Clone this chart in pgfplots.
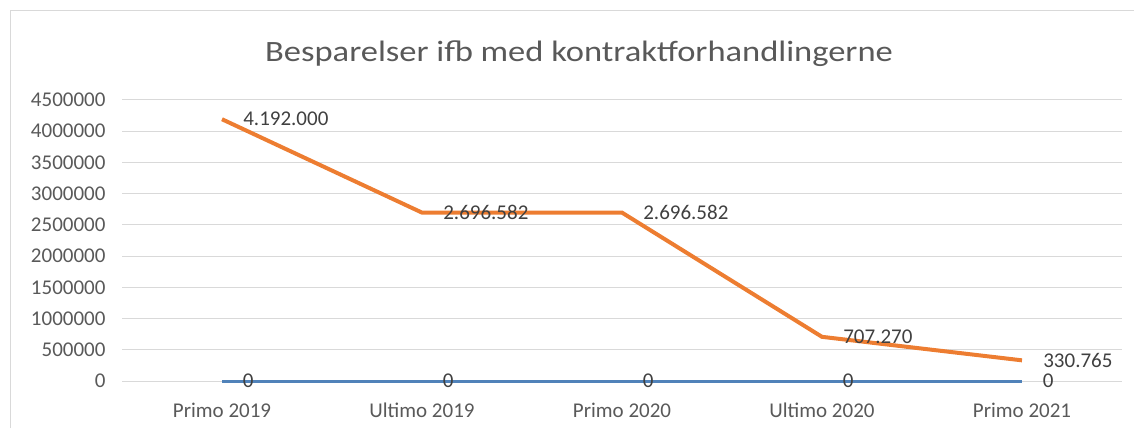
\documentclass[border=0pt]{standalone}
\usepackage{pgfplots}
\pgfplotsset{compat=1.18}
\usepackage{fontspec}
\setmainfont{Carlito}
\definecolor{orangeL}{RGB}{237,125,49}
\definecolor{blueL}{RGB}{80,130,185}
\definecolor{gridc}{RGB}{217,217,217}
\definecolor{txt}{RGB}{89,89,89}
\definecolor{lbl}{RGB}{64,64,64}
\begin{document}
\begin{tikzpicture}[x=1bp,y=1bp]
\draw[gridc, line width=1bp] (10,0) -- (10,417) -- (1134,417);
\begin{axis}[
  at={(122bp,47bp)}, anchor=south west,
  scale only axis, width=1000bp, height=281bp,
  xmin=-0.5, xmax=4.5, ymin=0, ymax=4500000,
  ytick={0,500000,1000000,1500000,2000000,2500000,3000000,3500000,4000000,4500000},
  xtick={0,1,2,3,4},
  xticklabels={Primo 2019,Ultimo 2019,Primo 2020,Ultimo 2020,Primo 2021},
  axis line style={draw=none},
  ymajorgrids, grid style={gridc, line width=1bp},
  major tick length=0pt,
  scaled y ticks=false,
  yticklabel style={/pgf/number format/fixed, /pgf/number format/1000 sep={}, /pgf/number format/precision=0, xshift=-13bp},
  xticklabel style={anchor=base, yshift=-36bp},
  /pgf/number format/assume math mode=true,
  ticklabel style={font=\fontsize{21bp}{25bp}\selectfont, text=txt},
  clip=false,
  point meta=explicit symbolic,
  nodes near coords,
  nodes near coords style={anchor=west, xshift=16bp, font=\fontsize{21bp}{25bp}\selectfont, text=lbl},
]
\addplot[blueL, line width=3bp] coordinates {
  (0,0) [0] (1,0) [0] (2,0) [0] (3,0) [0] (4,0) [0]
};
\addplot[orangeL, line width=4bp] coordinates {
  (0,4192000) [4.192.000]
  (1,2696582) [2.696.582]
  (2,2696582) [2.696.582]
  (3,707270) [707.270]
  (4,330765) [330.765]
};
\end{axis}
\node[anchor=base, font=\fontsize{29.5bp}{34bp}\selectfont, text=txt] at (579,367) {\scalebox{1.17}[1]{Besparelser ifb med kontraktforhandlingerne}};
\pgfresetboundingbox
\useasboundingbox (0,0) rectangle (1134,428);
\end{tikzpicture}
\end{document}
